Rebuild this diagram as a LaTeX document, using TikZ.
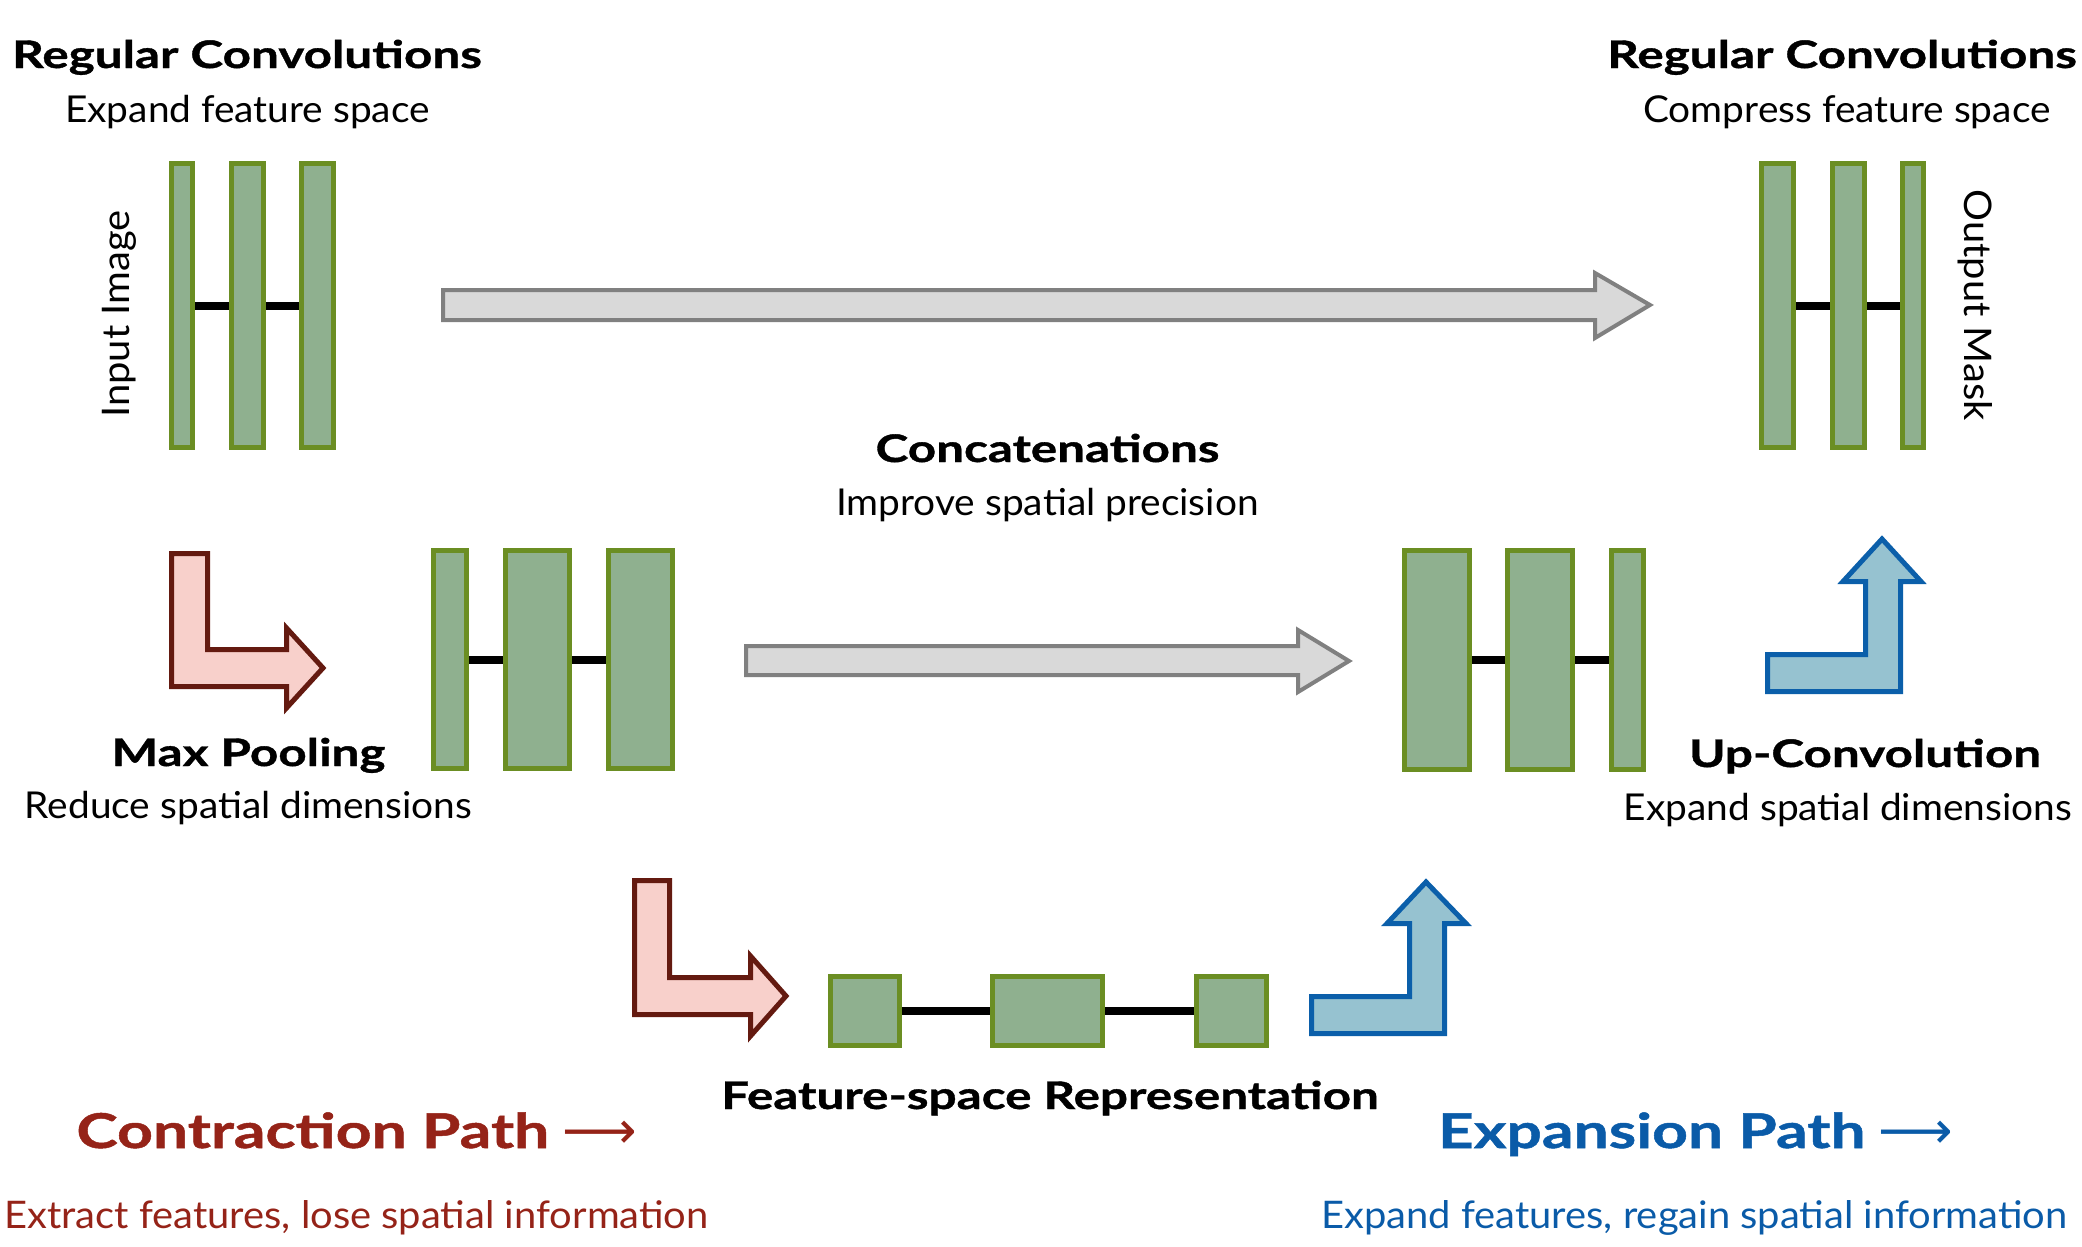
\documentclass[tikz,border=0pt]{standalone}
\usepackage{fontspec}
\setmainfont{Lato}[FakeStretch=1.05]
\newfontfamily\headfont{Lato}[FakeStretch=1.3,FakeBold=1]
\newfontfamily\arrowfont{DejaVu Sans}
\definecolor{layfill}{RGB}{143,176,143}
\definecolor{laydraw}{RGB}{107,142,35}
\definecolor{skipfill}{RGB}{217,217,217}
\definecolor{skipdraw}{RGB}{128,128,128}
\definecolor{poolfill}{RGB}{248,208,203}
\definecolor{pooldraw}{RGB}{100,26,16}
\definecolor{upfill}{RGB}{150,194,208}
\definecolor{updraw}{RGB}{11,95,170}
\definecolor{contred}{RGB}{149,35,24}
\definecolor{expblue}{RGB}{10,91,168}
\newcommand{\hd}[1]{{\headfont\bfseries #1}}
\newcommand{\longarr}{{\arrowfont\fontsize{52}{56}\selectfont ⟶}}

\begin{document}
\begin{tikzpicture}[x=1pt,y=-1pt,
    lay/.style={draw=laydraw,fill=layfill,line width=5pt,minimum height=284pt,inner sep=0},
    link/.style={line width=8pt},
    skip/.style={draw=skipdraw,fill=skipfill,line width=4pt},
    pool/.style={draw=pooldraw,fill=poolfill,line width=5pt},
    upconv/.style={draw=updraw,fill=upfill,line width=5pt},
    title/.style={anchor=base,inner sep=0,font=\fontsize{38}{42}\selectfont},
    sub/.style={anchor=base,inner sep=0,font=\fontsize{37}{42}\selectfont}]
\useasboundingbox (0,0) rectangle (2082,1247);
% top row
\node[lay,minimum width=21pt] (in1) at (182,305.5) {};
\node[lay,minimum width=32pt] (in2) at (247.5,305.5) {};
\node[lay,minimum width=32pt] (in3) at (317.5,305.5) {};
\node[lay,minimum width=32pt] (out1) at (1777.5,305.5) {};
\node[lay,minimum width=32pt] (out2) at (1848.5,305.5) {};
\node[lay,minimum width=21pt] (out3) at (1913,305.5) {};
% middle row
\node[lay,minimum width=33pt,minimum height=218pt] (dn1) at (450,659.5) {};
\node[lay,minimum width=64pt,minimum height=218pt] (dn2) at (537.5,659.5) {};
\node[lay,minimum width=64pt,minimum height=218pt] (dn3) at (640.5,659.5) {};
\node[lay,minimum width=65pt,minimum height=219pt] (up1) at (1437,660) {};
\node[lay,minimum width=65pt,minimum height=219pt] (up2) at (1540,660) {};
\node[lay,minimum width=32pt,minimum height=219pt] (up3) at (1627.5,660) {};
% bottleneck
\node[lay,minimum width=69pt,minimum height=69pt] (bn1) at (865,1011) {};
\node[lay,minimum width=110pt,minimum height=69pt] (bn2) at (1047.5,1011) {};
\node[lay,minimum width=70pt,minimum height=69pt] (bn3) at (1231.5,1011) {};

\foreach \a/\b in {in1/in2,in2/in3,out1/out2,out2/out3,dn1/dn2,dn2/dn3,up1/up2,up2/up3,bn1/bn2,bn2/bn3}
  \draw[link] (\a.east) -- (\b.west);

% skip arrows
\draw[skip] (443,290) -- (1595,290) -- (1595,273) -- (1650,305) -- (1595,338) -- (1595,320) -- (443,320) -- cycle;
\draw[skip] (746,646) -- (1298,646) -- (1298,630) -- (1349,661) -- (1298,692) -- (1298,675) -- (746,675) -- cycle;
% pooling arrows
\draw[pool] (171.5,553.5) -- (207.5,553.5) -- (207.5,649.5) -- (286.5,649.5) -- (286.5,628) -- (323,668) -- (286.5,708) -- (286.5,686.5) -- (171.5,686.5) -- cycle;
\draw[pool] (634.5,880.5) -- (669.5,880.5) -- (669.5,977.5) -- (750.5,977.5) -- (750.5,956) -- (786,996) -- (750.5,1036) -- (750.5,1014.5) -- (634.5,1014.5) -- cycle;
% up-convolution arrows
\draw[upconv] (1767.5,691.5) -- (1767.5,654.5) -- (1865.5,654.5) -- (1865.5,581.5) -- (1843,581.5) -- (1882,539) -- (1921,581.5) -- (1900.5,581.5) -- (1900.5,691.5) -- cycle;
\draw[upconv] (1311.5,1033.5) -- (1311.5,996.5) -- (1409.5,996.5) -- (1409.5,923.5) -- (1387,923.5) -- (1426,882) -- (1466,923.5) -- (1444.5,923.5) -- (1444.5,1033.5) -- cycle;

% labels
\node[title] (convl) at (247,68) {\hd{Regular Convolutions}};
\node[sub] (convlsub) at (247.5,122) {Expand feature space};
\node[title] (convr) at (1842,68) {\hd{Regular Convolutions}};
\node[sub] (convrsub) at (1847,122) {Compress feature space};
\node[sub,rotate=90,font=\fontsize{38}{44}\selectfont] (inimg) at (129.5,314) {Input Image};
\node[sub,rotate=-90,font=\fontsize{38}{44}\selectfont] (outmask) at (1964,305) {Output Mask};
\node[title] (concat) at (1047.5,462) {\hd{Concatenations}};
\node[sub] (concatsub) at (1047.5,515) {Improve spatial precision};
\node[title] (pooltxt) at (248.5,766) {\hd{Max Pooling}};
\node[sub] (poolsub) at (248.5,818) {Reduce spatial dimensions};
\node[title] (uptxt) at (1865,767) {\hd{Up-Convolution}};
\node[sub] (upsub) at (1848,820) {Expand spatial dimensions};
\node[title] (fsr) at (1050,1109) {\hd{Feature-space Representation}};
\node[title,text=contred,font=\fontsize{48}{52}\selectfont] (cpath) at (356.5,1148) {\hd{Contraction Path} \longarr};
\node[title,text=expblue,font=\fontsize{48}{52}\selectfont] (epath) at (1695.5,1148) {\hd{Expansion Path} \longarr};
\node[sub,text=contred,font=\fontsize{38}{42}\selectfont] (cdesc) at (356.5,1228) {Extract features, lose spatial information};
\node[sub,text=expblue,font=\fontsize{38}{42}\selectfont] (edesc) at (1694.5,1228) {Expand features, regain spatial information};
\end{tikzpicture}
\end{document}
